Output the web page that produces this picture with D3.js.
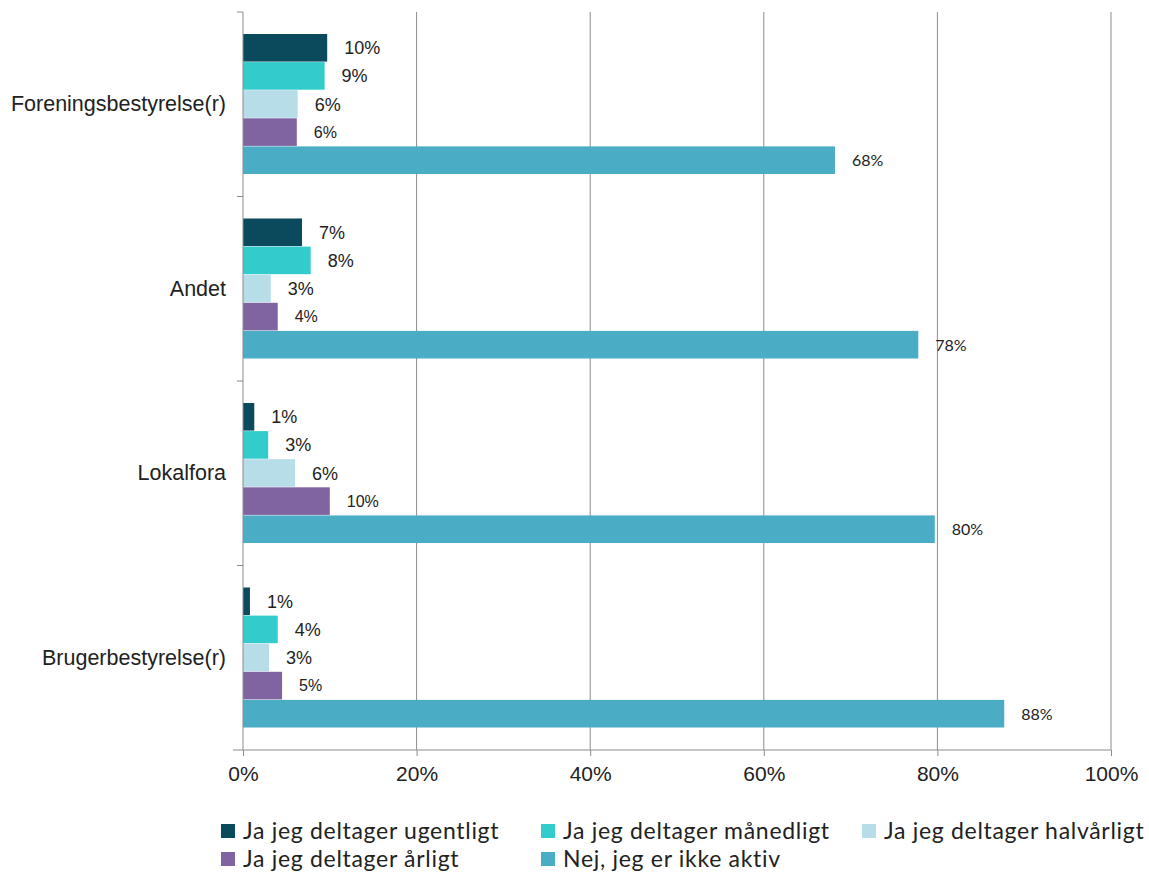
<!DOCTYPE html>
<html><head><meta charset="utf-8">
<script src="https://cdn.jsdelivr.net/npm/d3@7"></script>
<style>body{margin:0;background:#fff;}</style>
</head><body>
<svg id="chart" width="1149" height="876"></svg>
<script>
const categories = ["Foreningsbestyrelse(r)", "Andet", "Lokalfora", "Brugerbestyrelse(r)"];
const seriesNames = ["Ja jeg deltager ugentligt", "Ja jeg deltager månedligt", "Ja jeg deltager halvårligt", "Ja jeg deltager årligt", "Nej, jeg er ikke aktiv"];
const ugentligt = [9.7, 6.8, 1.3, 0.8];
const maanedligt = [9.4, 7.8, 2.9, 4.0];
const halvaarligt = [6.3, 3.2, 6.0, 3.0];
const aarligt = [6.2, 4.0, 10.0, 4.5];
const ikkeAktiv = [68.2, 77.8, 79.7, 87.7];
const labelsUgentligt = ["10%", "7%", "1%", "1%"];
const labelsMaanedligt = ["9%", "8%", "3%", "4%"];
const labelsHalvaarligt = ["6%", "3%", "6%", "3%"];
const labelsAarligt = ["6%", "4%", "10%", "5%"];
const labelsIkkeAktiv = ["68%", "78%", "80%", "88%"];
const xTicks = [0, 20, 40, 60, 80, 100];
const colors = ["#0b4a5c", "#33cccc", "#b7dde8", "#8064a2", "#4bacc6"];

const series = [ugentligt, maanedligt, halvaarligt, aarligt, ikkeAktiv];
const labels = [labelsUgentligt, labelsMaanedligt, labelsHalvaarligt, labelsAarligt, labelsIkkeAktiv];
const labelFont = [
  {f:"Liberation Sans, Arial, sans-serif", s:18},
  {f:"Liberation Sans, Arial, sans-serif", s:18},
  {f:"Liberation Sans, Arial, sans-serif", s:18},
  {f:"Liberation Sans, Arial, sans-serif", s:16},
  {f:"Lato, Open Sans, sans-serif", s:16}
];

const svg = d3.select("#chart");
const pLeft = 243, pRight = 1111, pTop = 12, pBottom = 750;

const x = d3.scaleLinear().domain([0, 100]).range([pLeft, pRight]);
const y = d3.scaleBand().domain(categories).range([pTop, pBottom]).paddingInner(0).paddingOuter(0);
const inner = d3.scaleBand().domain(d3.range(series.length)).range([22, y.bandwidth() - 22]).padding(0);

// gridlines
svg.append("g").selectAll("line").data(xTicks.filter(d => d > 0)).join("line")
  .attr("x1", d => x(d)).attr("x2", d => x(d))
  .attr("y1", pTop).attr("y2", pBottom)
  .attr("stroke", "#8c8c8c").attr("stroke-width", 1);

// bars + labels
series.forEach((vals, si) => {
  const g = svg.append("g");
  g.selectAll("rect").data(vals).join("rect")
    .attr("x", x(0))
    .attr("y", (d, ci) => y(categories[ci]) + inner(si))
    .attr("width", d => x(d) - x(0))
    .attr("height", inner.bandwidth() - 0.5)
    .attr("fill", colors[si]);
  g.selectAll("text").data(vals).join("text")
    .attr("x", d => x(d) + 17)
    .attr("y", (d, ci) => y(categories[ci]) + inner(si) + inner.bandwidth() / 2)
    .attr("dy", "0.35em")
    .attr("font-family", labelFont[si].f)
    .attr("font-size", labelFont[si].s)
    .attr("fill", "#222")
    .text((d, ci) => labels[si][ci]);
});

// x axis
const xAxis = svg.append("g").attr("transform", `translate(0,${pBottom})`)
  .call(d3.axisBottom(x).tickValues(xTicks).tickFormat(d => d + "%").tickSize(6).tickPadding(10));
xAxis.select(".domain").attr("stroke", "#8c8c8c").attr("d", `M${pLeft - 10},0H${pRight}`);
xAxis.selectAll(".tick line").attr("stroke", "#8c8c8c");
xAxis.selectAll("text").attr("font-family", "Liberation Sans, Arial, sans-serif").attr("font-size", 21).attr("fill", "#222");

// y axis
const yAxis = svg.append("g").attr("transform", `translate(${pLeft},0)`)
  .call(d3.axisLeft(y).tickSize(0).tickPadding(17));
yAxis.select(".domain").attr("stroke", "#8c8c8c").attr("d", `M0,${pTop}V${pBottom}`);
yAxis.selectAll("text").attr("font-family", "Liberation Sans, Arial, sans-serif").attr("font-size", 21.5).attr("fill", "#222");
svg.append("g").selectAll("line").data(categories).join("line")
  .attr("x1", pLeft - 6).attr("x2", pLeft)
  .attr("y1", d => y(d)).attr("y2", d => y(d))
  .attr("stroke", "#8c8c8c");

// legend
const legendPos = [[221, 831], [541, 831], [862, 831], [221, 859], [541, 859]];
const lg = svg.append("g").selectAll("g").data(seriesNames).join("g")
  .attr("transform", (d, i) => `translate(${legendPos[i][0]},${legendPos[i][1]})`);
lg.append("rect").attr("x", 0).attr("y", -7).attr("width", 14).attr("height", 14).attr("fill", (d, i) => colors[i]);
lg.append("text").attr("x", 22).attr("dy", "0.35em")
  .attr("font-family", "Lato, Open Sans, sans-serif").attr("font-size", 23).attr("letter-spacing", 0.7).attr("fill", "#222")
  .text(d => d);
</script>
</body></html>
